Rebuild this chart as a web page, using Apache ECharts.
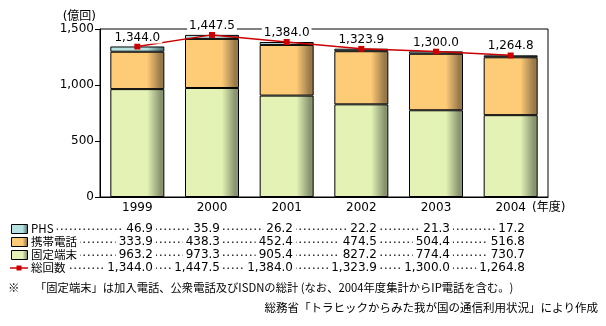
<!DOCTYPE html>
<html>
<head>
<meta charset="utf-8">
<script src="https://cdn.jsdelivr.net/npm/echarts@6/dist/echarts.min.js"></script>
<style>
  html, body { margin: 0; padding: 0; background: #fff; }
  #chart { width: 606px; height: 326px; }
</style>
</head>
<body>
<div id="chart"></div>
<script>
// 通信回数の推移（億回）
const years = ['1999', '2000', '2001', '2002', '2003', '2004'];
const phs = [46.9, 35.9, 26.2, 22.2, 21.3, 17.2];
const mobile = [333.9, 438.3, 452.4, 474.5, 504.4, 516.8];
const fixedLine = [963.2, 973.3, 905.4, 827.2, 774.4, 730.7];
const total = [1344.0, 1447.5, 1384.0, 1323.9, 1300.0, 1264.8];
const seriesNames = ['PHS', '携帯電話', '固定端末', '総回数'];
const yMin = 0, yMax = 1500, yStep = 500;
const yUnit = '(億回)';
const xUnit = '(年度)';
const footMark = '※';
const footNote = '「固定端末」は加入電話、公衆電話及びISDNの総計 (なお、2004年度集計からIP電話を含む。)';
const sourceNote = '総務省「トラヒックからみた我が国の通信利用状況」により作成';

const NUM_FONT = "'DejaVu Sans', 'Noto Sans CJK JP', sans-serif";
const JP_FONT = "'Noto Sans CJK JP', 'DejaVu Sans', sans-serif";

const fmt = v => v.toLocaleString('en-US', { minimumFractionDigits: 1, maximumFractionDigits: 1 });
const fmtInt = v => v.toLocaleString('en-US');

// cylinder-like shading on the right side of each bar
function shade(base, dark) {
  return {
    type: 'linear', x: 0, y: 0, x2: 1, y2: 0,
    colorStops: [
      { offset: 0, color: base },
      { offset: 0.68, color: base },
      { offset: 0.93, color: dark },
      { offset: 1, color: dark }
    ]
  };
}
const colPhs = shade('#B6E2E2', '#5E8282');
const colMobile = shade('#FECB77', '#98794A');
const colFixed = shade('#E4F3B5', '#889470');
const colTotal = '#CC0000';

const chart = echarts.init(document.getElementById('chart'), null, { renderer: 'canvas' });

// data table under the chart
const rowY = [229, 242, 255, 268];
const colRight = [153, 220, 293, 377, 450, 525];
const rowData = [phs, mobile, fixedLine, total];
const rowFill = [colPhs, colMobile, colFixed, null];
const graphics = [];
rowData.forEach((arr, r) => {
  const y = rowY[r];
  graphics.push({
    type: 'line', z: 1,
    shape: { x1: 34, y1: y + 0.25, x2: colRight[colRight.length - 1], y2: y + 0.25 },
    style: { stroke: '#333', lineWidth: 1.5, lineDash: [1.5, 3] }
  });
  if (rowFill[r]) {
    graphics.push({
      type: 'rect', z: 2,
      shape: { x: 11.5, y: y - 4.5, width: 16, height: 9 },
      style: { fill: rowFill[r], stroke: '#000', lineWidth: 1 }
    });
  } else {
    graphics.push({
      type: 'line', z: 2,
      shape: { x1: 10, y1: y, x2: 28, y2: y },
      style: { stroke: colTotal, lineWidth: 1.5 }
    });
    graphics.push({
      type: 'rect', z: 3,
      shape: { x: 16.5, y: y - 2.5, width: 5, height: 5 },
      style: { fill: colTotal }
    });
  }
  graphics.push({
    type: 'text', z: 3,
    style: {
      text: seriesNames[r], x: 30, y: y,
      font: '11.5px ' + JP_FONT, fill: '#000',
      verticalAlign: 'middle', align: 'left',
      backgroundColor: '#fff', padding: [1, 3, 1, 1]
    }
  });
  arr.forEach((v, i) => {
    graphics.push({
      type: 'text', z: 3,
      style: {
        text: fmt(v), x: colRight[i] + 3, y: y,
        font: '12px ' + NUM_FONT, fill: '#000',
        verticalAlign: 'middle', align: 'right',
        backgroundColor: '#fff', padding: [1, 3, 1, 3]
      }
    });
  });
});
graphics.push({
  type: 'text',
  style: { text: footMark, x: 8, y: 288, font: '11.5px ' + JP_FONT, fill: '#000', verticalAlign: 'middle' }
});
graphics.push({
  type: 'text',
  style: { text: footNote, x: 35, y: 288, font: '11.3px ' + JP_FONT, fill: '#000', verticalAlign: 'middle' }
});
graphics.push({
  type: 'text',
  style: { text: sourceNote, x: 598, y: 308, font: '11.5px ' + JP_FONT, fill: '#000', verticalAlign: 'middle', align: 'right' }
});

const barStyle = fill => ({ color: fill, borderColor: '#000', borderWidth: 1 });

chart.setOption({
  animation: false,
  backgroundColor: '#fff',
  grid: {
    left: 100, right: 58, top: 29, bottom: 129,
    show: true, borderColor: '#000', borderWidth: 1, backgroundColor: 'transparent'
  },
  xAxis: {
    type: 'category',
    data: years,
    axisLine: { lineStyle: { color: '#000', width: 1 } },
    axisTick: { inside: true, length: 3, lineStyle: { color: '#000' } },
    axisLabel: { color: '#000', fontFamily: NUM_FONT, fontSize: 12, margin: 5 },
    name: xUnit,
    nameLocation: 'end',
    nameGap: -16,
    nameTextStyle: { color: '#000', fontFamily: NUM_FONT, fontSize: 12, align: 'left', verticalAlign: 'top', padding: [5, 0, 0, 0] }
  },
  yAxis: {
    type: 'value',
    min: yMin, max: yMax, interval: yStep,
    axisLine: { show: true, lineStyle: { color: '#000', width: 1 } },
    axisTick: { show: true, length: 5, lineStyle: { color: '#000' } },
    splitLine: { show: false },
    axisLabel: { color: '#000', fontFamily: NUM_FONT, fontSize: 12, margin: 6, formatter: v => fmtInt(v) },
    name: yUnit,
    nameLocation: 'end',
    nameGap: 12,
    nameTextStyle: { color: '#000', fontFamily: NUM_FONT, fontSize: 12, align: 'right', verticalAlign: 'middle', padding: [0, 4, 0, 0] }
  },
  series: [
    { name: seriesNames[2], type: 'bar', stack: 'calls', barWidth: 54, data: fixedLine, itemStyle: barStyle(colFixed) },
    { name: seriesNames[1], type: 'bar', stack: 'calls', barWidth: 54, data: mobile, itemStyle: barStyle(colMobile) },
    { name: seriesNames[0], type: 'bar', stack: 'calls', barWidth: 54, data: phs, itemStyle: barStyle(colPhs) },
    {
      name: seriesNames[3], type: 'line', data: total, z: 5,
      symbol: 'rect', symbolSize: [6, 6],
      lineStyle: { color: colTotal, width: 1.5 },
      itemStyle: { color: colTotal },
      label: {
        show: true, position: 'top', distance: 0,
        formatter: p => fmt(p.value),
        color: '#000', fontFamily: NUM_FONT, fontSize: 12,
        backgroundColor: '#fff', padding: [0, 2]
      }
    }
  ],
  graphic: graphics
});
</script>
</body>
</html>
